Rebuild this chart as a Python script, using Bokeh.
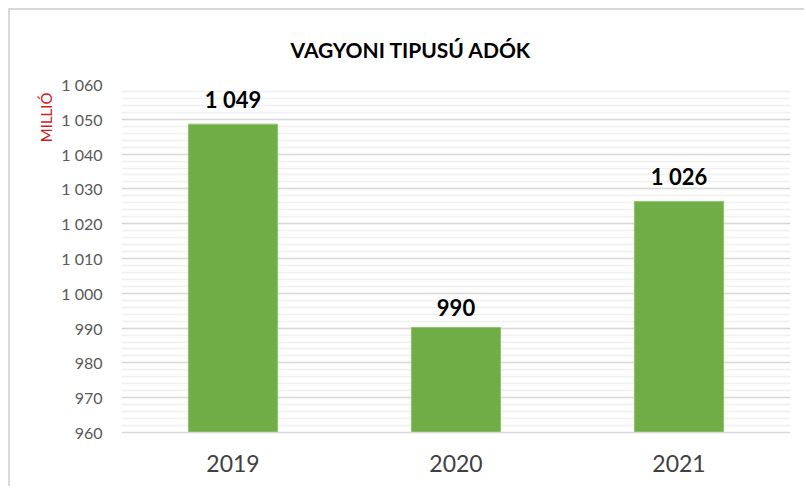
from bokeh.plotting import figure
from bokeh.models import ColumnDataSource, SingleIntervalTicker, Range1d, Title
from bokeh.core.properties import value
from bokeh.embed import file_html
from bokeh.resources import INLINE

years = ["2019", "2020", "2021"]
values = [1048.6, 990.2, 1026.4]
value_labels = ["1 049", "990", "1 026"]
y_ticks = [960, 970, 980, 990, 1000, 1010, 1020, 1030, 1040, 1050, 1060]
y_tick_labels = ["960", "970", "980", "990", "1 000", "1 010", "1 020", "1 030", "1 040", "1 050", "1 060"]
title_text = "VAGYONI TIPUSÚ ADÓK"
unit_text = "MILLIÓ"

FONT = "Lato"

src = ColumnDataSource(dict(x=years, top=values, lab=value_labels))

p = figure(width=796, height=478, x_range=years, y_range=Range1d(960, 1060),
           output_backend="svg", toolbar_location=None,
           min_border_left=111, min_border_right=16, min_border_top=74, min_border_bottom=56)
p.styles = {"margin-left": "8px", "margin-top": "8px",
            "border-left": "2px solid #d9d9d9", "border-top": "2px solid #d9d9d9"}
p.outline_line_color = None
p.background_fill_color = "white"
p.border_fill_color = "white"

p.vbar(x="x", top="top", bottom=960, width=0.4, source=src,
       fill_color="#70ad47", line_color="#8cc56a", line_width=1)

p.text(x="x", y="top", text="lab", source=src, text_align="center", text_baseline="bottom",
       y_offset=-11, text_font_size="22px", text_font_style="bold", text_color="#000000",
       text_font=value(FONT))

# y axis
p.yaxis.ticker = SingleIntervalTicker(interval=10, num_minor_ticks=5)
p.yaxis.major_label_overrides = {t: l for t, l in zip(y_ticks, y_tick_labels)}
p.yaxis.axis_line_color = None
p.yaxis.major_tick_line_color = None
p.yaxis.minor_tick_line_color = None
p.yaxis.major_label_text_font = FONT
p.yaxis.major_label_text_font_size = "16px"
p.yaxis.major_label_text_color = "#595959"
p.yaxis.major_label_standoff = 13

p.ygrid.grid_line_color = "#d9d9d9"
p.ygrid.grid_line_width = 1.5
p.ygrid.minor_grid_line_color = "#f0f0f0"
p.ygrid.minor_grid_line_width = 1.5
p.xgrid.grid_line_color = None

# x axis
p.xaxis.axis_line_color = "#d9d9d9"
p.xaxis.axis_line_width = 1.5
p.xaxis.major_tick_line_color = None
p.xaxis.minor_tick_line_color = None
p.xaxis.major_label_text_font = FONT
p.xaxis.major_label_text_font_size = "23px"
p.xaxis.major_label_text_color = "#404040"
p.xaxis.major_label_standoff = 16

# main title
p.title.text = title_text
p.title.align = "left"
p.title.offset = 169
p.title.standoff = 45
p.title.text_font = FONT
p.title.text_font_size = "21px"
p.title.text_font_style = "bold"
p.title.text_color = "#000000"

# unit label on the left
p.add_layout(Title(text=unit_text, align="right", offset=8, standoff=8,
                   text_font=FONT, text_font_size="15px", text_font_style="normal",
                   text_color="#d01c1c"), "left")

open("out.html", "w").write(file_html(p, INLINE))
